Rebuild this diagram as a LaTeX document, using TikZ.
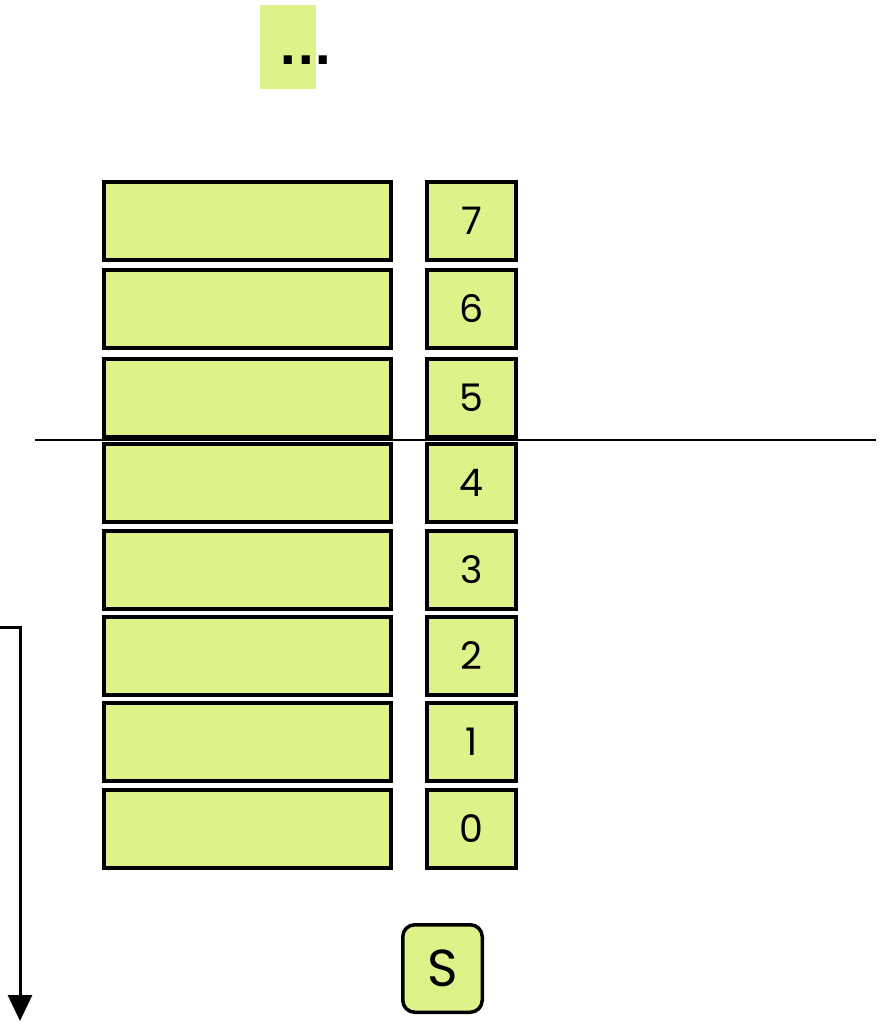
\documentclass[tikz,border=0pt]{standalone}
\usepackage{fontspec}
\setmainfont{Poppins}
\newfontfamily\dotfont{DejaVu Sans}
\usetikzlibrary{arrows.meta}
\definecolor{cellgreen}{HTML}{DEF28A}
\begin{document}
\begin{tikzpicture}[x=1pt,y=-1pt,
  cell/.style={draw=black,line width=4pt,fill=cellgreen,minimum height=78pt,inner sep=0pt,anchor=north west},
  slot/.style={cell,minimum width=287pt},
  idx/.style={cell,minimum width=89pt,font=\fontsize{38}{38}\selectfont},
]
\useasboundingbox (0,0) rectangle (881,1023);

% ellipsis marker at the top
\fill[cellgreen] (260,5) rectangle (316,89);
\node[inner sep=0pt,font=\dotfont\bfseries\fontsize{46}{46}\selectfont] (dots) at (306,60) {...};

% stack slots and their indices
\foreach \i/\y in {7/180,6/268,5/357,4/442,3/529,2/615,1/701,0/788}{
  \node[slot] (s\i) at (102,\y) {};
  \node[idx] (n\i) at (425,\y) {\i};
}

% dividing line between slots 5 and 4
\coordinate (hl) at (35,440);
\coordinate (hr) at (876,440);
\draw[line width=2.4pt] (hl) -- (hr);

% downward arrow on the left
\coordinate (a0) at (0,627);
\coordinate (a1) at (20,627);
\coordinate (a2) at (20,1021);
\draw[line width=3pt,-{Triangle[length=26pt,width=24pt]}] (a0) -- (a1) -- (a2);

% S register
\node[draw=black,line width=3.5pt,fill=cellgreen,rounded corners=12pt,minimum width=79.5pt,minimum height=87.5pt,inner sep=0pt,font=\fontsize{52}{52}\selectfont] (S) at (442.5,968.5) {S};
\end{tikzpicture}
\end{document}
